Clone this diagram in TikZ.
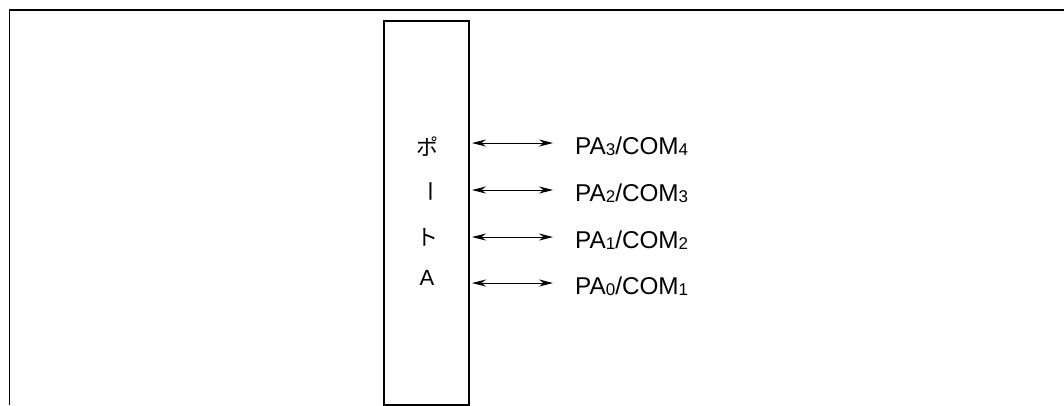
\documentclass[tikz,border=0pt]{standalone}
\usepackage{fontspec}
\setmainfont{Liberation Sans}
\newfontfamily\cjk{Noto Sans CJK JP}
\usetikzlibrary{arrows.meta}
\newcommand{\sbx}[1]{\raisebox{-1pt}{\fontsize{17}{18}\selectfont #1}}
\tikzset{
  frame/.style={line width=1.2pt},
  portbox/.style={draw, line width=2pt},
  biarrow/.style={{Stealth[length=14pt,width=7pt]}-{Stealth[length=14pt,width=7pt]}, line width=0.9pt},
  lab/.style={anchor=west, inner sep=0pt, font=\fontsize{24.3}{26}\selectfont},
  vch/.style={inner sep=0pt, font=\fontsize{22}{24}\selectfont}
}
\begin{document}
\begin{tikzpicture}[x=1pt,y=-1pt]
\useasboundingbox (0,0) rectangle (1064,405);
\coordinate (tl) at (9.5,10);
\coordinate (tr) at (1064,10);
\coordinate (bl) at (9.5,405);
\draw[frame] (tr) -- (tl) -- (bl);
\node[portbox, minimum width=85pt, minimum height=384pt, anchor=north west, inner sep=0pt] (box) at (383,20) {};
\node[vch] (c1) at (427,147) {\cjk ポ};
\node[vch, rotate=-90] (c2) at (427,191) {\cjk ー};
\node[vch] (c3) at (427,237) {\cjk ト};
\node[vch] (c4) at (427,278) {A};
\foreach \i/\y/\a/\b in {3/143/3/4, 2/190/2/3, 1/237/1/2, 0/283/0/1}{
  \coordinate (s\i) at (472,\y);
  \coordinate (e\i) at (553,\y);
  \draw[biarrow] (s\i) -- (e\i);
  \node[lab] (l\i) at (575,\y+3) {PA\sbx{\a}/COM\sbx{\b}};
}
\end{tikzpicture}
\end{document}
